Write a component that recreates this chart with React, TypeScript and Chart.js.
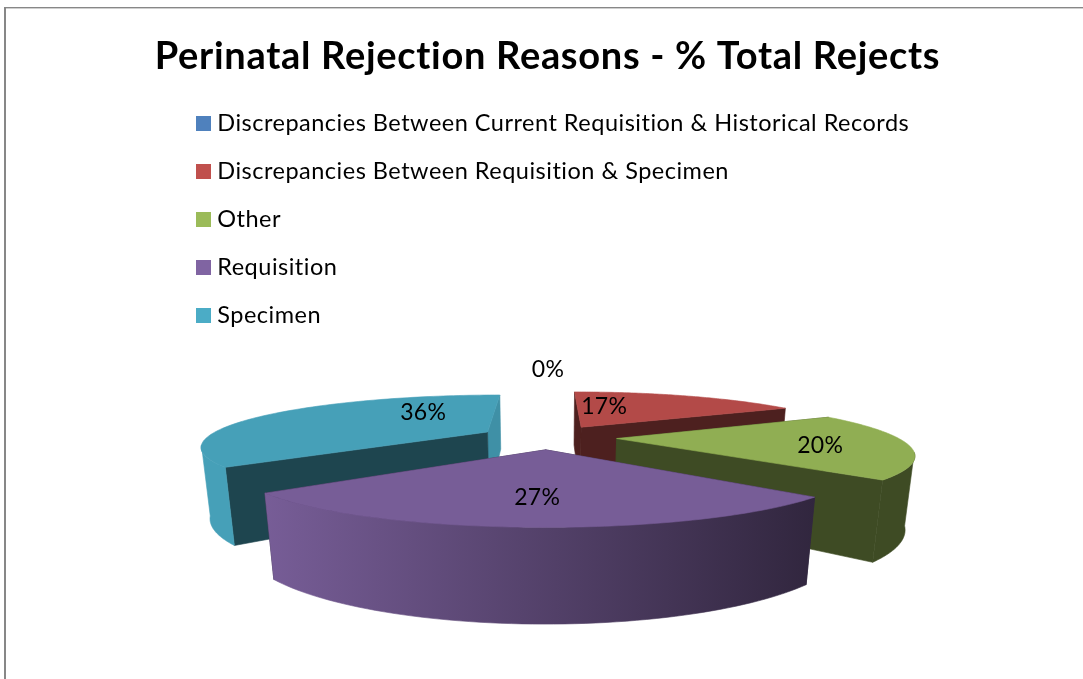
import React, { useEffect, useRef } from "react";
import { Chart, registerables } from "chart.js";

Chart.register(...registerables);

const chartTitle = "Perinatal Rejection Reasons - % Total Rejects";
const categories = [
  "Discrepancies Between Current Requisition & Historical Records",
  "Discrepancies Between Requisition & Specimen",
  "Other",
  "Requisition",
  "Specimen",
];
const percentages = [0, 17, 20, 27, 36];
const baseColors = ["#4F81BD", "#C0504D", "#9BBB59", "#8064A2", "#4BACC6"];

// Brightness factors applied to the base colour of each slice.
const TOP_SHADE = 0.93;
const wallShades = [
  [0.4, 0.4],
  [0.4, 0.4],
  [0.4, 0.4],
  [0.4, 0.4],
  [0.4, 0.84],
];
const rimShades = [
  [0.4, 0.4],
  [0.4, 0.4],
  [0.4, 0.4],
  [0.93, 0.38],
  [0.93, 0.93],
];
// Where each percentage sits inside its slice: share of the sweep, share of the radius.
const labelSweep = [0, 0.2, 0.56, 0.5, 0.75];
const labelRadius = [1.92, 0.54, 0.7, 0.688, 0.54];

// Camera used to turn the flat pie into a tilted, extruded one.
const VIEW = { cx: 548, cy: 437, a: 280, b: 49, k: 0.261, q: 0.025, h: 70, explode: 0.245 };

const project = (u: number, v: number, z: number) => {
  const d = 1 + VIEW.k * v + VIEW.q * z;
  return { x: VIEW.cx + (VIEW.a * u) / d, y: VIEW.cy + (-VIEW.b * v + VIEW.h * z) / d };
};

const shade = (hex: string, f: number) => {
  const n = parseInt(hex.slice(1), 16);
  const c = [(n >> 16) & 255, (n >> 8) & 255, n & 255].map((x) => Math.round(x * f));
  return `rgb(${c[0]},${c[1]},${c[2]})`;
};

const swatch = (color: string) => {
  const c = document.createElement("canvas");
  c.width = 15;
  c.height = 15;
  const g = c.getContext("2d")!;
  g.fillStyle = color;
  g.fillRect(0, 0, 15, 15);
  return c;
};

const frameLine = {
  id: "frameLine",
  beforeDraw(chart: any) {
    const { ctx, width, height } = chart;
    ctx.save();
    ctx.fillStyle = "#ffffff";
    ctx.fillRect(0, 0, width, height);
    ctx.fillStyle = "#878787";
    ctx.fillRect(4, 7, width, 1.4);
    ctx.fillRect(4, 7, 2, height);
    ctx.restore();
  },
};

// Gives a layout box its own tracking while it paints.
const spaced = (chart: any, box: any, spacing: string) => {
  if (box.__spaced) return;
  const paint = box.draw;
  box.draw = function (...args: any[]) {
    chart.ctx.letterSpacing = spacing;
    paint.apply(this, args);
    chart.ctx.letterSpacing = "0px";
  };
  box.__spaced = true;
};

const legendPlacement = {
  id: "legendPlacement",
  afterLayout(chart: any) {
    const lg = chart.legend;
    const h = lg.bottom - lg.top;
    lg.left = 176;
    lg.right = 1000;
    lg.top = 87;
    lg.bottom = lg.top + h;
    spaced(chart, lg, "0.5px");
    spaced(chart, chart.titleBlock, "0.7px");
  },
};

// Draws the slices of the pie as solid wedges, from the angles the arc elements hold.
const solidPie = {
  id: "solidPie",
  beforeDatasetsDraw(chart: any) {
    const { ctx } = chart;
    const arcs = chart.getDatasetMeta(0).data;
    const slices = arcs.map((arc: any, i: number) => {
      const start = arc.startAngle + Math.PI / 2;
      const end = arc.endAngle + Math.PI / 2;
      const mid = (start + end) / 2;
      return {
        i,
        start,
        end,
        ax: VIEW.explode * Math.sin(mid),
        ay: VIEW.explode * Math.cos(mid),
      };
    });

    const fillPath = (pts: { x: number; y: number }[], style: any) => {
      ctx.beginPath();
      pts.forEach((p, n) => (n ? ctx.lineTo(p.x, p.y) : ctx.moveTo(p.x, p.y)));
      ctx.closePath();
      ctx.fillStyle = style;
      ctx.fill();
      ctx.strokeStyle = style;
      ctx.lineWidth = 0.6;
      ctx.stroke();
    };

    // The outer rim turns away from the viewer at these angles under perspective.
    const rimFrom = Math.acos(-VIEW.k);
    const rimTo = Math.PI * 2 - rimFrom;

    const order = [...slices].sort((p, q) => q.ay - p.ay);
    for (const s of order) {
      if (s.end - s.start < 1e-6) continue;
      const color = baseColors[s.i];
      const edge = (t: number, z: number) =>
        project(s.ax + Math.sin(t), s.ay + Math.cos(t), z);
      const hub = (z: number) => project(s.ax, s.ay, z);

      // Cut faces, the one reaching further back first.
      const walls = [
        { t: s.start, f: wallShades[s.i][0] },
        { t: s.end, f: wallShades[s.i][1] },
      ].sort((p, q) => Math.cos(q.t) - Math.cos(p.t));
      for (const w of walls) {
        fillPath([hub(0), edge(w.t, 0), edge(w.t, 1), hub(1)], shade(color, w.f));
      }

      // Outer rim, only where it faces the viewer.
      const r0 = Math.max(s.start, rimFrom);
      const r1 = Math.min(s.end, rimTo);
      if (r1 > r0) {
        const upper: { x: number; y: number }[] = [];
        const lower: { x: number; y: number }[] = [];
        const rimSteps = 64;
        for (let n = 0; n <= rimSteps; n++) {
          const t = r0 + ((r1 - r0) * n) / rimSteps;
          upper.push(edge(t, 0));
          lower.push(edge(t, 1));
        }
        const xs = upper.map((p) => p.x);
        const grad = ctx.createLinearGradient(Math.min(...xs), 0, Math.max(...xs), 0);
        grad.addColorStop(0, shade(color, rimShades[s.i][0]));
        grad.addColorStop(1, shade(color, rimShades[s.i][1]));
        fillPath([...upper, ...lower.reverse()], grad);
      }

      // Top face.
      const top = [hub(0)];
      const topSteps = 96;
      for (let n = 0; n <= topSteps; n++) {
        top.push(edge(s.start + ((s.end - s.start) * n) / topSteps, 0));
      }
      fillPath(top, shade(color, TOP_SHADE));
    }

    // Percentages.
    ctx.save();
    ctx.font = "23px Lato";
    ctx.letterSpacing = "0.3px";
    ctx.fillStyle = "#000000";
    ctx.textAlign = "center";
    ctx.textBaseline = "middle";
    for (const s of slices) {
      const t = s.start + (s.end - s.start) * labelSweep[s.i];
      const r = labelRadius[s.i];
      const p = project(s.ax + r * Math.sin(t), s.ay + r * Math.cos(t), 0);
      ctx.fillText(`${percentages[s.i]}%`, p.x, p.y);
    }
    ctx.restore();

    return false;
  },
};

export default function App() {
  const ref = useRef<HTMLCanvasElement>(null);

  useEffect(() => {
    const chart = new Chart(ref.current!, {
      type: "pie",
      data: {
        labels: categories,
        datasets: [{ data: percentages, backgroundColor: baseColors, borderWidth: 0 }],
      },
      plugins: [frameLine, legendPlacement, solidPie],
      options: {
        animation: false,
        responsive: false,
        layout: { padding: { left: 12 } },
        plugins: {
          tooltip: { enabled: false },
          title: {
            display: true,
            text: chartTitle,
            color: "#000000",
            font: { family: "Lato", size: 38, weight: "bold" },
            padding: { top: 34, bottom: 20 },
          },
          legend: {
            position: "left",
            align: "start",
            maxWidth: 800,
            labels: {
              color: "#000000",
              font: { family: "Lato", size: 23.5, lineHeight: 1.2 },
              padding: 24.5,
              boxWidth: 5,
              usePointStyle: true,
              generateLabels: (c: any) =>
                (Chart as any).overrides.pie.plugins.legend.labels
                  .generateLabels(c)
                  .map((item: any, i: number) => ({ ...item, pointStyle: swatch(baseColors[i]) })),
            },
          },
        },
      },
    } as any);
    return () => chart.destroy();
  }, []);

  return (
    <canvas
      ref={ref}
      width={1083}
      height={679}
      style={{ position: "fixed", left: 0, top: 0, display: "block" }}
    />
  );
}
